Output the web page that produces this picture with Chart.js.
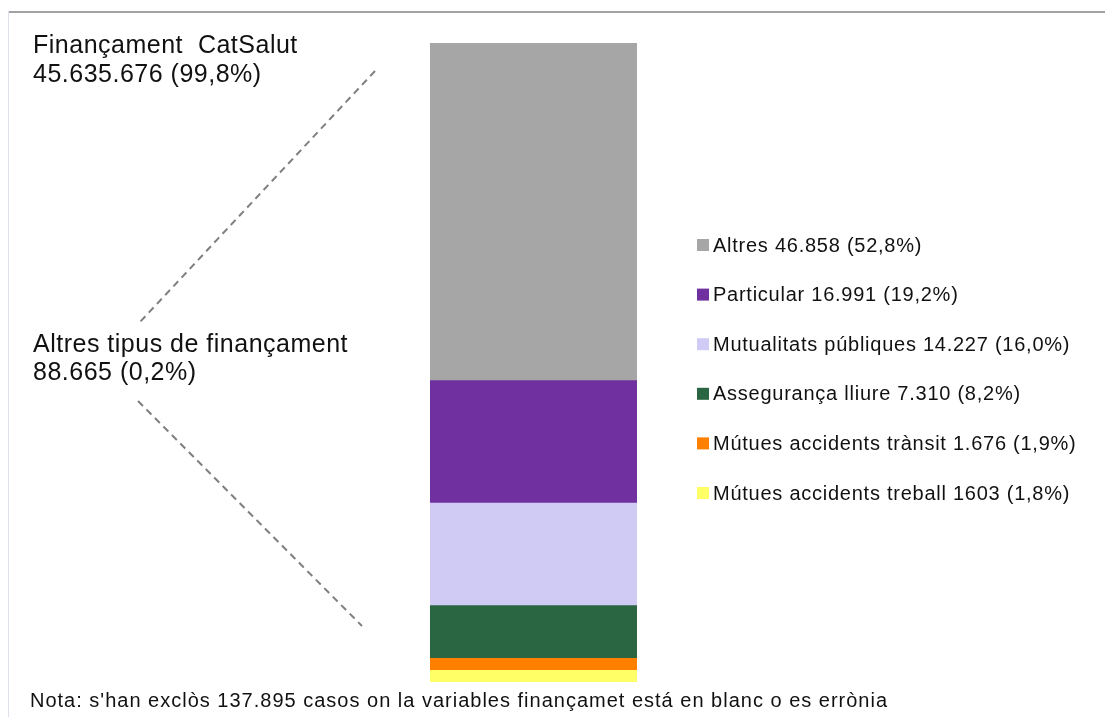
<!DOCTYPE html>
<html lang="ca">
<head>
<meta charset="utf-8">
<title>Finançament</title>
<script src="https://cdn.jsdelivr.net/npm/chart.js@4/dist/chart.umd.min.js"></script>
<style>
  html, body { margin: 0; padding: 0; background: #fff; }
  #wrap { position: relative; width: 1105px; height: 717px; }
</style>
</head>
<body>
<div id="wrap"><canvas id="chart" width="1105" height="717"></canvas></div>
<script>
// stacked bar order: bottom -> top
const categories = ['Altres tipus de finançament'];
const seriesLabels = ['Mútues accidents treball', 'Mútues accidents trànsit', 'Assegurança lliure', 'Mutualitats públiques', 'Particular', 'Altres'];
const seriesValues = [1603, 1676, 7310, 14227, 16991, 46858];
const valueTexts = ['1603', '1.676', '7.310', '14.227', '16.991', '46.858'];
const percentTexts = ['1,8%', '1,9%', '8,2%', '16,0%', '19,2%', '52,8%'];
const seriesColors = ['#FFFF66', '#FF8000', '#2A6642', '#D0CBF5', '#7030A0', '#A6A6A6'];

const mainLabel = ['Finançament  CatSalut', '45.635.676 (99,8%)'];
const otherLabel = ['Altres tipus de finançament', '88.665 (0,2%)'];
const noteText = "Nota: s'han exclòs 137.895 casos on la variables finançamet está en blanc o es errònia";

const total = seriesValues.reduce((a, b) => a + b, 0);
const FONT = '"Liberation Sans", Arial, sans-serif';

const decorations = {
  id: 'decorations',
  beforeDraw(chart) {
    const ctx = chart.ctx;
    ctx.save();
    // chart area frame (cropped)
    ctx.fillStyle = '#A3A3A3';
    ctx.fillRect(9, 11, 1096, 2);
    ctx.fillStyle = '#DCE1EC';
    ctx.fillRect(8, 11, 1, 706);
    ctx.restore();
  },
  afterDraw(chart) {
    const ctx = chart.ctx;
    const { left } = chart.chartArea;
    ctx.save();

    // connector lines
    ctx.strokeStyle = '#7F7F7F';
    ctx.lineWidth = 2;
    ctx.setLineDash([7, 5]);
    ctx.beginPath();
    ctx.moveTo(left - 55, 71);
    ctx.lineTo(140, 322);
    ctx.moveTo(138, 401);
    ctx.lineTo(left - 68, 626);
    ctx.stroke();
    ctx.setLineDash([]);

    // side labels
    ctx.fillStyle = '#111';
    ctx.textBaseline = 'alphabetic';
    ctx.font = '25px ' + FONT;
    ctx.letterSpacing = '0.5px';
    ctx.fillText(mainLabel[0], 33, 53);
    ctx.fillText(mainLabel[1], 33, 82);
    ctx.fillText(otherLabel[0], 33, 352);
    ctx.fillText(otherLabel[1], 33, 380);

    // legend (top segment first)
    ctx.font = '20px ' + FONT;
    ctx.letterSpacing = '0.75px';
    ctx.textBaseline = 'middle';
    const ds = chart.data.datasets;
    for (let i = ds.length - 1, row = 0; i >= 0; i--, row++) {
      const y = 245 + row * 49.6;
      ctx.fillStyle = ds[i].backgroundColor;
      ctx.fillRect(697, y - 6, 12, 12);
      ctx.fillStyle = '#111';
      ctx.fillText(`${ds[i].label} ${valueTexts[i]} (${percentTexts[i]})`, 713, y + 1);
    }

    // note
    ctx.font = '20px ' + FONT;
    ctx.letterSpacing = '1px';
    ctx.textBaseline = 'alphabetic';
    ctx.fillText(noteText, 30, 707);
    ctx.restore();
  }
};

new Chart(document.getElementById('chart'), {
  type: 'bar',
  data: {
    labels: categories,
    datasets: seriesLabels.map((label, i) => ({
      label,
      data: [seriesValues[i]],
      backgroundColor: seriesColors[i],
      borderWidth: 0,
      barPercentage: 1,
      categoryPercentage: 1,
    })),
  },
  options: {
    responsive: false,
    animation: false,
    layout: { padding: { top: 43, bottom: 35, left: 430, right: 468 } },
    plugins: { legend: { display: false }, tooltip: { enabled: false } },
    scales: {
      x: { stacked: true, display: false },
      y: { stacked: true, display: false, min: 0, max: total },
    },
  },
  plugins: [decorations],
});
</script>
</body>
</html>
